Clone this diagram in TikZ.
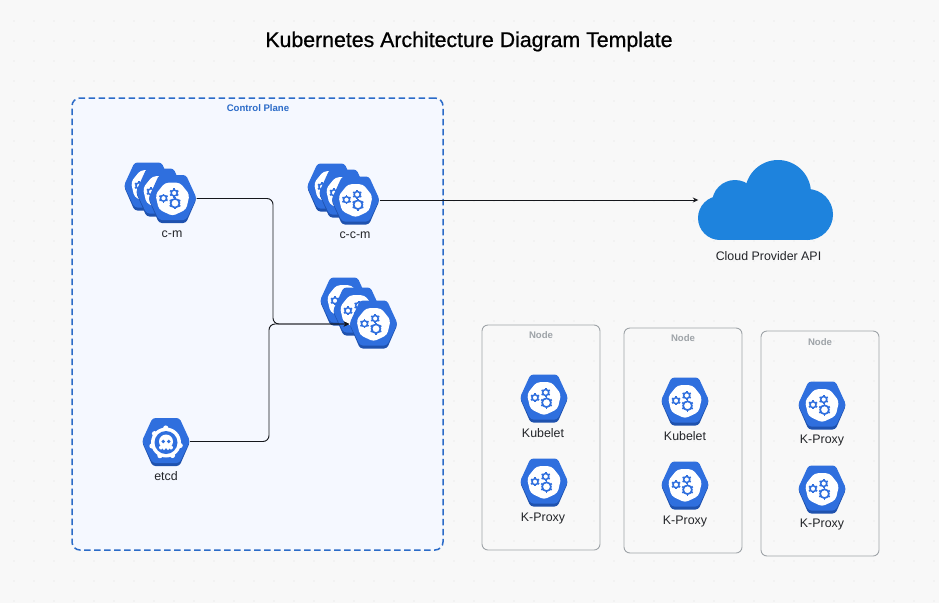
\documentclass[tikz,border=0pt]{standalone}
\usepackage{fontspec}
\usetikzlibrary{arrows.meta}
\setmainfont{Liberation Sans}
\definecolor{pagebg}{HTML}{F8F8F8}
\definecolor{griddot}{HTML}{ECECEC}
\definecolor{planefill}{HTML}{F5F8FF}
\definecolor{planeline}{HTML}{2B6BC8}
\definecolor{kubeblue}{HTML}{2F6FDE}
\definecolor{kubedark}{HTML}{1F52AE}
\definecolor{cloudblue}{HTML}{1E83DD}
\definecolor{nodegrey}{HTML}{9EA3A8}
\definecolor{inktext}{HTML}{222428}
\definecolor{wireink}{HTML}{15171C}
\tikzset{
  x=1pt,y=-1pt,
  planebox/.style={draw=planeline,fill=planefill,line width=1.5pt,dash pattern=on 6.5pt off 3.5pt,rounded corners=8pt},
  nodebox/.style={draw=nodegrey,line width=0.9pt,rounded corners=6pt},
  title/.style={font=\fontsize{21.3}{25}\selectfont\addfontfeature{FakeBold=0.8},text=black,inner sep=0pt},
  caption/.style={font=\fontsize{12.4}{14}\selectfont,text=inktext,inner sep=0pt,text height=10pt,text depth=2pt},
  planelabel/.style={font=\fontsize{9.6}{11}\selectfont\bfseries,text=planeline,inner sep=0pt},
  nodelabel/.style={font=\fontsize{9.6}{11}\selectfont\bfseries,text=nodegrey,inner sep=0pt},
  iconslot/.style={circle,minimum size=48pt,inner sep=0pt},
  wire/.style={draw=wireink,line width=0.95pt,rounded corners=6pt},
  arrowed/.style={-{Stealth[length=5.5pt,width=5pt]}},
  kubehex/.pic={
    \fill[kubedark,rounded corners=3pt] (-13.5,-21) -- (13.5,-21) -- (24,0.5) -- (13.5,24.5) -- (-13.5,24.5) -- (-24,0.5) -- cycle;
    \fill[kubeblue,rounded corners=3pt] (-13.5,-23.5) -- (13.5,-23.5) -- (24,-0.5) -- (13.5,21.5) -- (-13.5,21.5) -- (-24,-0.5) -- cycle;
  },
  gearpic/.pic={
    \fill[white,rounded corners=3.5pt] (90:17.5) -- (38.6:17.5) -- (-12.9:17.5) -- (-64.3:17.5) -- (-115.7:17.5) -- (-167.1:17.5) -- (141.4:17.5) -- cycle;
    \foreach \gx/\gy/\gr/\gw in {2.5/4.7/4.4/1.7,-9/-0.3/3/1.5,1.7/-5.5/3/1.5}{
      \draw[kubeblue,line width=\gw pt] (\gx,\gy) circle (\gr);
      \foreach \ang in {0,60,...,300}
        \draw[kubeblue,line width=1.7pt] (\gx,\gy) ++(\ang+30:\gr) -- ++(\ang+30:1.7);
    }
  },
  etcdpic/.pic={
    \fill[white] (0,1) circle (15);
    \foreach \ang in {0,51.4,...,308}
      \fill[white] (0,1) ++(\ang+12:14.5) circle (2.6);
    \fill[kubeblue] (0,1) circle (11.5);
    \fill[white] (0,0) circle (7);
    \fill[white] (-5,6) circle (2);
    \fill[white] (5,6) circle (2);
    \fill[white] (-2,7) circle (1.5);
    \fill[white] (2,7) circle (1.5);
    \fill[kubeblue] (-2.7,0) circle (1.9);
    \fill[kubeblue] (2.7,0) circle (1.9);
  },
}
\newcommand{\kubeicon}[3]{%
  \node[iconslot] (#1) at (#2,#3) {};
  \pic at (#1) {kubehex};
  \pic at (#1) {gearpic};
}
\begin{document}
\begin{tikzpicture}
\useasboundingbox (0,0) rectangle (939,603);
\fill[pagebg] (0,0) rectangle (939,603);
\foreach \i in {0,...,46}
  \foreach \j in {0,...,29}
    \fill[griddot] (14+20*\i,21+20*\j) circle (0.9);

\node[title] (heading) at (469,41.5) {Kubernetes Architecture Diagram Template};

% Control plane
\node[planebox,minimum width=371pt,minimum height=452pt,inner sep=0pt] (plane) at (257.5,324) {};
\node[planelabel] (planetitle) at (258,108) {Control Plane};

% Worker nodes
\node[nodebox,minimum width=118pt,minimum height=225pt,inner sep=0pt] (nodeA) at (541,437.5) {};
\node[nodebox,minimum width=118pt,minimum height=225pt,inner sep=0pt] (nodeB) at (683,440.5) {};
\node[nodebox,minimum width=118pt,minimum height=225pt,inner sep=0pt] (nodeC) at (820,443.5) {};
\node[nodelabel] (nodeAt) at (541,335) {Node};
\node[nodelabel] (nodeBt) at (683,338) {Node};
\node[nodelabel] (nodeCt) at (820,342) {Node};

% c-m stack
\kubeicon{cmc}{148}{186}
\kubeicon{cmb}{160}{192}
\kubeicon{cm}{172.5}{198.5}
\node[caption] (cmt) at (172,233) {c-m};

% c-c-m stack
\kubeicon{ccmc}{331}{187}
\kubeicon{ccmb}{343}{193}
\kubeicon{ccm}{355.5}{200}
\node[caption] (ccmt) at (355,234) {c-c-m};

% api server stack
\kubeicon{apic}{344}{301}
\kubeicon{apib}{357}{311}
\coordinate (busA) at (273,324);
\coordinate (busB) at (269,324);
\node[iconslot] (api) at (373.5,324) {};

% etcd
\node[iconslot] (etcd) at (166,441.5) {};
\pic at (etcd) {kubehex};
\pic at (etcd) {etcdpic};
\node[caption] (etcdt) at (166,476) {etcd};

% connectors
\draw[wire,arrowed] (cm.east) -| (busA) -- (api.west);
\draw[wire,arrowed] (etcd.east) -| (busB) -- (api.west);
\pic at (api) {kubehex};
\pic at (api) {gearpic};

% Cloud
\node[inner sep=0pt,minimum width=135pt,minimum height=80pt] (cloud) at (766,200) {};
\fill[cloudblue] (720,218) circle (22);
\fill[cloudblue] (735,203) circle (23);
\fill[cloudblue] (778,193) circle (33);
\fill[cloudblue] (807.5,214.5) circle (25.5);
\fill[cloudblue] (720,205) rectangle (807.5,240);
\node[caption] (cloudt) at (768.5,256.5) {Cloud Provider API};
\draw[wire,arrowed] (ccm.east) -- (cloud.west);

% Node contents
\kubeicon{ka}{544}{398}
\node[caption] (kat) at (543,433) {Kubelet};
\kubeicon{pa}{544}{482}
\node[caption] (pat) at (543,517.5) {K-Proxy};
\kubeicon{kb}{685}{401}
\node[caption] (kbt) at (685,436) {Kubelet};
\kubeicon{pb}{685}{485}
\node[caption] (pbt) at (685,520.5) {K-Proxy};
\kubeicon{kc}{822}{405}
\node[caption] (kct) at (822,439) {K-Proxy};
\kubeicon{pc}{822}{489}
\node[caption] (pct) at (822,523.5) {K-Proxy};
\end{tikzpicture}
\end{document}
